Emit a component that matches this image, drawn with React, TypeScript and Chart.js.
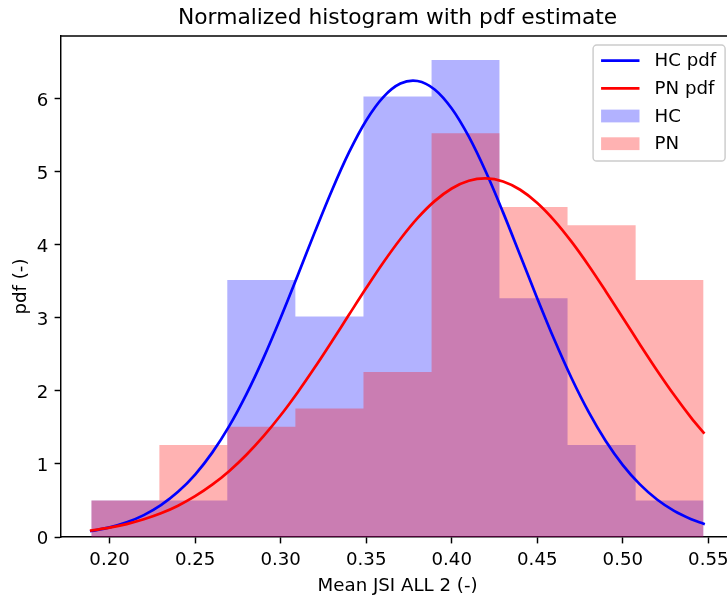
import React, { useEffect, useRef } from 'react';
import { Chart, registerables } from 'chart.js';

Chart.register(...registerables);

const FONT = "'DejaVu Sans', 'Liberation Sans', sans-serif";

// Histogram bin edges shared by both groups
const binEdges = [0.1893, 0.2291, 0.2688, 0.3086, 0.3484, 0.3882, 0.4279, 0.4677, 0.5075, 0.5472];
// Normalized histogram heights (density) per bin
const hcDensity = [0.5, 0.5, 3.52, 3.02, 6.03, 6.53, 3.27, 1.26, 0.5];
const pnDensity = [0.5, 1.26, 1.51, 1.76, 2.26, 5.53, 4.52, 4.27, 3.52];

// Estimated probability density curves
const pdfX = [
  0.1893, 0.2, 0.21, 0.22, 0.23, 0.24, 0.25, 0.26, 0.27, 0.28, 0.29, 0.3, 0.31, 0.32, 0.33, 0.34,
  0.35, 0.36, 0.37, 0.38, 0.39, 0.4, 0.41, 0.42, 0.43, 0.44, 0.45, 0.46, 0.47, 0.48, 0.49, 0.5,
  0.51, 0.52, 0.53, 0.54, 0.5472,
];
const hcPdf = [
  0.082, 0.132, 0.201, 0.3, 0.436, 0.618, 0.855, 1.155, 1.521, 1.956, 2.453, 3.002, 3.584, 4.178,
  4.749, 5.269, 5.704, 6.024, 6.209, 6.244, 6.128, 5.867, 5.481, 4.997, 4.445, 3.858, 3.267, 2.7,
  2.177, 1.713, 1.315, 0.985, 0.72, 0.513, 0.357, 0.243, 0.182,
];
const pnPdf = [
  0.089, 0.128, 0.177, 0.242, 0.324, 0.429, 0.559, 0.716, 0.905, 1.127, 1.381, 1.667, 1.983, 2.323,
  2.68, 3.046, 3.409, 3.759, 4.081, 4.366, 4.599, 4.772, 4.877, 4.91, 4.868, 4.755, 4.574, 4.333,
  4.044, 3.718, 3.366, 3.002, 2.637, 2.281, 1.944, 1.632, 1.43,
];

const xTickValues = [0.2, 0.25, 0.3, 0.35, 0.4, 0.45, 0.5, 0.55];
const yTickValues = [0, 1, 2, 3, 4, 5, 6];

// Axis limits: the right end of the x axis lies just past the canvas edge
const xMin = 0.1716;
const xVisibleMax = 0.5609;
const xAxisMax = 0.5651;
const yMin = 0;
const yMax = 6.86;

const chartTitle = 'Normalized histogram with pdf estimate';
const xTitle = 'Mean JSI ALL 2 (-)';
const yTitle = 'pdf (-)';

const HC_LINE = '#0000ff';
const PN_LINE = '#ff0000';
const HC_FILL = 'rgba(0, 0, 255, 0.3)';
const PN_FILL = 'rgba(255, 0, 0, 0.3)';

const legendItems = [
  { label: 'HC pdf', kind: 'line', color: HC_LINE },
  { label: 'PN pdf', kind: 'line', color: PN_LINE },
  { label: 'HC', kind: 'patch', color: HC_FILL },
  { label: 'PN', kind: 'patch', color: PN_FILL },
];

const SPINE = 1.46;
const TICK_FONT = 18.2;

function stepPoints(edges: number[], heights: number[]) {
  return edges.map((x, i) => ({ x, y: heights[Math.min(i, heights.length - 1)] }));
}

function curvePoints(xs: number[], ys: number[]) {
  return xs.map((x, i) => ({ x, y: ys[i] }));
}

const decorPlugin = {
  id: 'decor',
  afterDraw(chart: any) {
    const { ctx, chartArea: a } = chart;
    const xs = chart.scales.x;
    const axisEnd = xs.getPixelForValue(xAxisMax);
    const cx = (a.left + axisEnd) / 2;
    ctx.save();

    // top spine
    ctx.strokeStyle = '#000';
    ctx.lineWidth = SPINE;
    ctx.beginPath();
    ctx.moveTo(a.left - SPINE / 2, a.top);
    ctx.lineTo(chart.width, a.top);
    ctx.stroke();

    // titles
    ctx.fillStyle = '#000';
    ctx.textAlign = 'center';
    ctx.textBaseline = 'alphabetic';
    ctx.font = `21.8px ${FONT}`;
    ctx.fillText(chartTitle, cx, 23.5);
    ctx.font = `${TICK_FONT}px ${FONT}`;
    ctx.fillText(xTitle, cx, 591);

    ctx.save();
    ctx.translate(21, (a.top + a.bottom) / 2);
    ctx.rotate(-Math.PI / 2);
    ctx.textBaseline = 'middle';
    ctx.fillText(yTitle, 0, 0);
    ctx.restore();

    // legend
    const fs = TICK_FONT;
    const right = axisEnd - 0.5 * fs;
    const top = a.top + 0.5 * fs;
    const boxW = 132;
    const boxH = 116;
    const left = right - boxW;
    ctx.beginPath();
    ctx.roundRect(left, top, boxW, boxH, 3.6);
    ctx.fillStyle = 'rgba(255,255,255,0.8)';
    ctx.fill();
    ctx.strokeStyle = '#cccccc';
    ctx.lineWidth = SPINE;
    ctx.stroke();

    ctx.font = `${fs}px ${FONT}`;
    ctx.textAlign = 'left';
    ctx.textBaseline = 'middle';
    legendItems.forEach((item, i) => {
      const cy = top + 15.5 + i * 27.7;
      const hx0 = left + 8;
      const hx1 = hx0 + 38.4;
      if (item.kind === 'line') {
        ctx.strokeStyle = item.color;
        ctx.lineWidth = 2.7;
        ctx.lineCap = 'butt';
        ctx.beginPath();
        ctx.moveTo(hx0, cy);
        ctx.lineTo(hx1, cy);
        ctx.stroke();
      } else {
        ctx.fillStyle = item.color;
        ctx.fillRect(hx0, cy - 6.4, hx1 - hx0, 12.8);
      }
      ctx.fillStyle = '#000';
      ctx.fillText(item.label, left + 61.5, cy + 1);
    });

    ctx.restore();
  },
};

export default function App() {
  const canvasRef = useRef<HTMLCanvasElement | null>(null);

  useEffect(() => {
    const canvas = canvasRef.current;
    if (!canvas) return;

    const chart = new Chart(canvas, {
      type: 'line',
      data: {
        datasets: [
          {
            label: 'PN pdf',
            data: curvePoints(pdfX, pnPdf),
            borderColor: PN_LINE,
            borderWidth: 2.7,
            pointRadius: 0,
            fill: false,
            tension: 0.35,
            borderCapStyle: 'square',
          },
          {
            label: 'HC pdf',
            data: curvePoints(pdfX, hcPdf),
            borderColor: HC_LINE,
            borderWidth: 2.7,
            pointRadius: 0,
            fill: false,
            tension: 0.35,
            borderCapStyle: 'square',
          },
          {
            label: 'PN',
            data: stepPoints(binEdges, pnDensity),
            stepped: true,
            borderColor: 'rgba(0,0,0,0)',
            borderWidth: 1,
            backgroundColor: PN_FILL,
            pointRadius: 0,
            fill: 'origin',
          },
          {
            label: 'HC',
            data: stepPoints(binEdges, hcDensity),
            stepped: true,
            borderColor: 'rgba(0,0,0,0)',
            borderWidth: 1,
            backgroundColor: HC_FILL,
            pointRadius: 0,
            fill: 'origin',
          },
        ],
      } as any,
      options: {
        responsive: false,
        maintainAspectRatio: false,
        devicePixelRatio: 1,
        animation: false,
        layout: { padding: { top: 36, left: 0, right: 0, bottom: 0 } },
        plugins: {
          legend: { display: false },
          title: { display: false },
          tooltip: { enabled: false },
        },
        scales: {
          x: {
            type: 'linear',
            position: 'bottom',
            min: xMin,
            max: xVisibleMax,
            afterBuildTicks: (scale: any) => {
              scale.ticks = xTickValues.map((v) => ({ value: v }));
            },
            afterFit: (scale: any) => {
              scale.height = 60;
              scale.paddingLeft = 0;
              scale.paddingRight = 0;
            },
            ticks: {
              callback: (v: any) => Number(v).toFixed(2),
              color: '#000',
              font: { family: FONT, size: TICK_FONT },
              padding: 6.4,
              maxRotation: 0,
              autoSkip: false,
            },
            grid: {
              display: true,
              drawOnChartArea: false,
              drawTicks: true,
              tickLength: 6.4,
              tickWidth: SPINE,
              tickColor: '#000',
            },
            border: { display: true, color: '#000', width: SPINE },
          },
          y: {
            type: 'linear',
            min: yMin,
            max: yMax,
            afterBuildTicks: (scale: any) => {
              scale.ticks = yTickValues.map((v) => ({ value: v }));
            },
            afterFit: (scale: any) => {
              scale.width = 61;
              scale.paddingTop = 0;
              scale.paddingBottom = 0;
            },
            ticks: {
              callback: (v: any) => String(v),
              color: '#000',
              font: { family: FONT, size: TICK_FONT },
              padding: 6.4,
              labelOffset: 2,
              autoSkip: false,
            },
            grid: {
              display: true,
              drawOnChartArea: false,
              drawTicks: true,
              tickLength: 6.4,
              tickWidth: SPINE,
              tickColor: '#000',
            },
            border: { display: true, color: '#000', width: SPINE },
          },
        },
      } as any,
      plugins: [decorPlugin],
    });

    return () => chart.destroy();
  }, []);

  return (
    <div style={{ position: 'fixed', left: 0, top: 0, width: 727, height: 597, background: '#fff' }}>
      <canvas ref={canvasRef} width={727} height={597} style={{ display: 'block' }} />
    </div>
  );
}
